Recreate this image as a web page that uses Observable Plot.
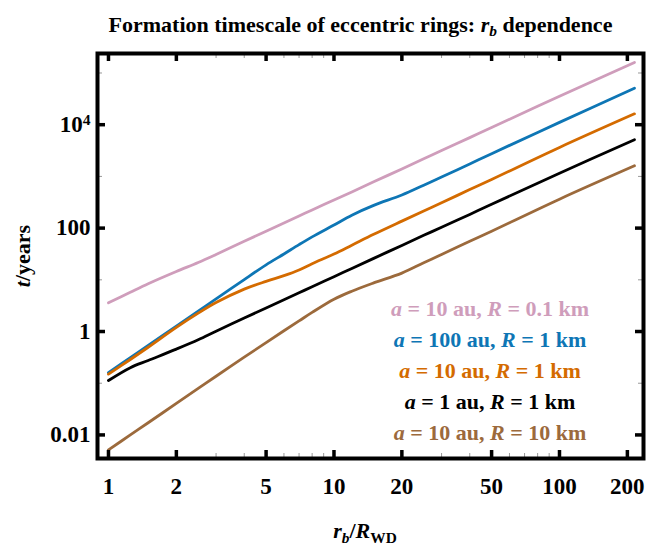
<!DOCTYPE html>
<html>
<head>
<meta charset="utf-8">
<script src="https://cdn.jsdelivr.net/npm/d3@7"></script>
<script src="https://cdn.jsdelivr.net/npm/@observablehq/plot@0.6"></script>
<style>
  html, body { margin: 0; padding: 0; background: #fff; }
  #wrap { width: 665px; height: 552px; position: relative; overflow: hidden; }
  #title { box-sizing: border-box; width: 665px; height: 36px; padding-top: 14px; padding-left: 56px;
    text-align: center; font-family: "Liberation Serif", "Times New Roman", serif; font-weight: bold;
    font-size: 22px; line-height: 22px; color: #000; white-space: nowrap; }
  #title sub { font-size: 0.7em; vertical-align: -0.25em; line-height: 0; }
</style>
</head>
<body>
<div id="wrap">
  <div id="title">Formation timescale of eccentric rings: <i>r</i><sub><i>b</i></sub> dependence</div>
  <div id="chart"></div>
</div>
<script>
// ---- data ----
const rb = [1, 1.25, 1.5, 2, 2.5, 3, 4, 5, 6, 7, 8, 10, 12, 15, 20, 25, 30, 40, 50, 100, 215];
const tPink   = [3.59, 5.75, 8.41, 14.5, 21.6, 30.9, 55.6, 87.1, 126, 172, 224, 351, 501, 785, 1397, 2188, 3162, 5623, 8811, 35480, 160300];
const tBlue   = [0.160, 0.313, 0.537, 1.274, 2.483, 4.266, 10.12, 19.5, 31.6, 47.9, 67.6, 114.8, 177.8, 275.4, 436.5, 676, 977, 1738, 2754, 11090, 50820];
const tOrange = [0.150, 0.288, 0.496, 1.202, 2.265, 3.631, 6.607, 9.333, 12.02, 15.49, 20.42, 31.62, 46.77, 75.86, 136.5, 213.8, 309, 556, 871, 3631, 16220];
const tBlack  = [0.1127, 0.1995, 0.2754, 0.4571, 0.6918, 1.012, 1.820, 2.851, 4.121, 5.623, 7.328, 11.48, 16.6, 26.0, 46.24, 72.44, 103.5, 184.1, 288.4, 1148, 5129];
const tBrown  = [0.00513, 0.0100, 0.01718, 0.04074, 0.07943, 0.1365, 0.3199, 0.6095, 1.035, 1.603, 2.344, 4.217, 6.026, 8.710, 13.49, 21.38, 30.9, 55.6, 87.1, 363.1, 1603];

const seriesKeys   = ["pink", "blue", "orange", "black", "brown"];
const seriesColors = ["#CF9DBB", "#0E76B5", "#D46B00", "#000000", "#9C6A3C"];
const seriesA      = ["10 au", "100 au", "10 au", "1 au", "10 au"];
const seriesR      = ["0.1 km", "1 km", "1 km", "1 km", "10 km"];
const seriesT      = [tPink, tBlue, tOrange, tBlack, tBrown];

const xTicks = [1, 2, 5, 10, 20, 50, 100, 200];
const xTickLabels = ["1", "2", "5", "10", "20", "50", "100", "200"];
const xMinor = [3, 4, 6, 7, 8, 9, 30, 40, 60, 70, 80, 90];
const yTicks = [0.01, 1, 100, 10000];
const yTickLabels = ["0.01", "1", "100", "10^4"];
const yMinor = [0.1, 10, 1000, 100000];

// ---- layout ----
const W = 665, H = 516;
const mT = 17, mB = 94, mL = 97, mR = 22;
const frameW = W - mL - mR, frameH = H - mT - mB;
const serif = "'Liberation Serif', 'Times New Roman', serif";

const rows = seriesKeys.flatMap((k, i) => rb.map((x, j) => ({series: k, rb: x, t: seriesT[i][j]})));

const majorLen = 8, minorLen = 5;

const plot = Plot.plot({
  width: W, height: H,
  marginTop: mT, marginBottom: mB, marginLeft: mL, marginRight: mR,
  style: {fontFamily: serif, background: "white", overflow: "visible"},
  x: {type: "log", domain: [0.894, 235.8], axis: null},
  y: {type: "log", domain: [0.0035, 238300], axis: null},
  marks: [
    ...seriesKeys.map((k, i) => Plot.line(rows.filter(r => r.series === k), {
      x: "rb", y: "t", stroke: seriesColors[i], strokeWidth: 2.8, curve: "catmull-rom"
    })),
    // minor ticks
    Plot.tickX(xMinor, {x: d => d, stroke: "#999", strokeWidth: 1, insetTop: frameH - minorLen}),
    Plot.tickX(xMinor, {x: d => d, stroke: "#999", strokeWidth: 1, insetBottom: frameH - minorLen}),
    Plot.tickY(yMinor, {y: d => d, stroke: "#999", strokeWidth: 1, insetRight: frameW - minorLen}),
    Plot.tickY(yMinor, {y: d => d, stroke: "#999", strokeWidth: 1, insetLeft: frameW - minorLen}),
    // major ticks (inward, all four sides)
    Plot.tickX(xTicks, {x: d => d, stroke: "black", strokeWidth: 3.5, insetTop: frameH - majorLen}),
    Plot.tickX(xTicks, {x: d => d, stroke: "black", strokeWidth: 3.5, insetBottom: frameH - majorLen}),
    Plot.tickY(yTicks, {y: d => d, stroke: "black", strokeWidth: 3.5, insetRight: frameW - majorLen}),
    Plot.tickY(yTicks, {y: d => d, stroke: "black", strokeWidth: 3.5, insetLeft: frameW - majorLen}),
    Plot.frame({stroke: "black", strokeWidth: 4}),
    // tick labels
    Plot.text(xTicks, {x: d => d, text: (d, i) => xTickLabels[i], frameAnchor: "bottom", lineAnchor: "top",
      dy: 19, fontSize: 23, fontWeight: "bold", fontFamily: serif, fill: "black"}),
    Plot.text(yTicks, {y: d => d, text: (d, i) => yTickLabels[i], frameAnchor: "left", textAnchor: "end",
      dx: -7, fontSize: 23, fontWeight: "bold", fontFamily: serif, fill: "black"})
  ]
});

document.getElementById("chart").appendChild(plot);

const svg = d3.select(plot);

// superscript for 10^4
svg.selectAll("text").each(function() {
  const el = d3.select(this);
  if (this.textContent === "10^4") {
    el.text("10");
    el.append("tspan").attr("dy", "-0.45em").attr("font-size", "0.68em").text("4");
  }
});

// axis labels
const ylab = svg.append("text")
  .attr("transform", "translate(30, 220) rotate(-90)")
  .attr("text-anchor", "middle")
  .style("font-family", serif).style("font-weight", "bold").style("font-size", "22px").attr("fill", "black");
ylab.append("tspan").style("font-style", "italic").text("t");
ylab.append("tspan").text("/years");

const xlab = svg.append("text")
  .attr("x", 365).attr("y", 502)
  .attr("text-anchor", "middle")
  .style("font-family", serif).style("font-weight", "bold").style("font-size", "22px").attr("fill", "black");
xlab.append("tspan").style("font-style", "italic").text("r");
xlab.append("tspan").style("font-style", "italic").attr("font-size", "0.7em").attr("dy", "0.3em").text("b");
xlab.append("tspan").attr("dy", "-0.21em").text("/");
xlab.append("tspan").style("font-style", "italic").text("R");
xlab.append("tspan").attr("font-size", "0.7em").attr("dy", "0.3em").text("WD");

// legend
const legendY = [272, 303, 334, 365, 396];
seriesKeys.forEach((k, i) => {
  const t = svg.append("text")
    .attr("x", 490).attr("y", legendY[i]).attr("dy", "0.35em")
    .attr("text-anchor", "middle")
    .style("font-family", serif).style("font-weight", "bold").style("font-size", "22px")
    .attr("fill", seriesColors[i]);
  t.append("tspan").style("font-style", "italic").text("a");
  t.append("tspan").text(" = " + seriesA[i] + ", ");
  t.append("tspan").style("font-style", "italic").text("R");
  t.append("tspan").text(" = " + seriesR[i]);
});
</script>
</body>
</html>
